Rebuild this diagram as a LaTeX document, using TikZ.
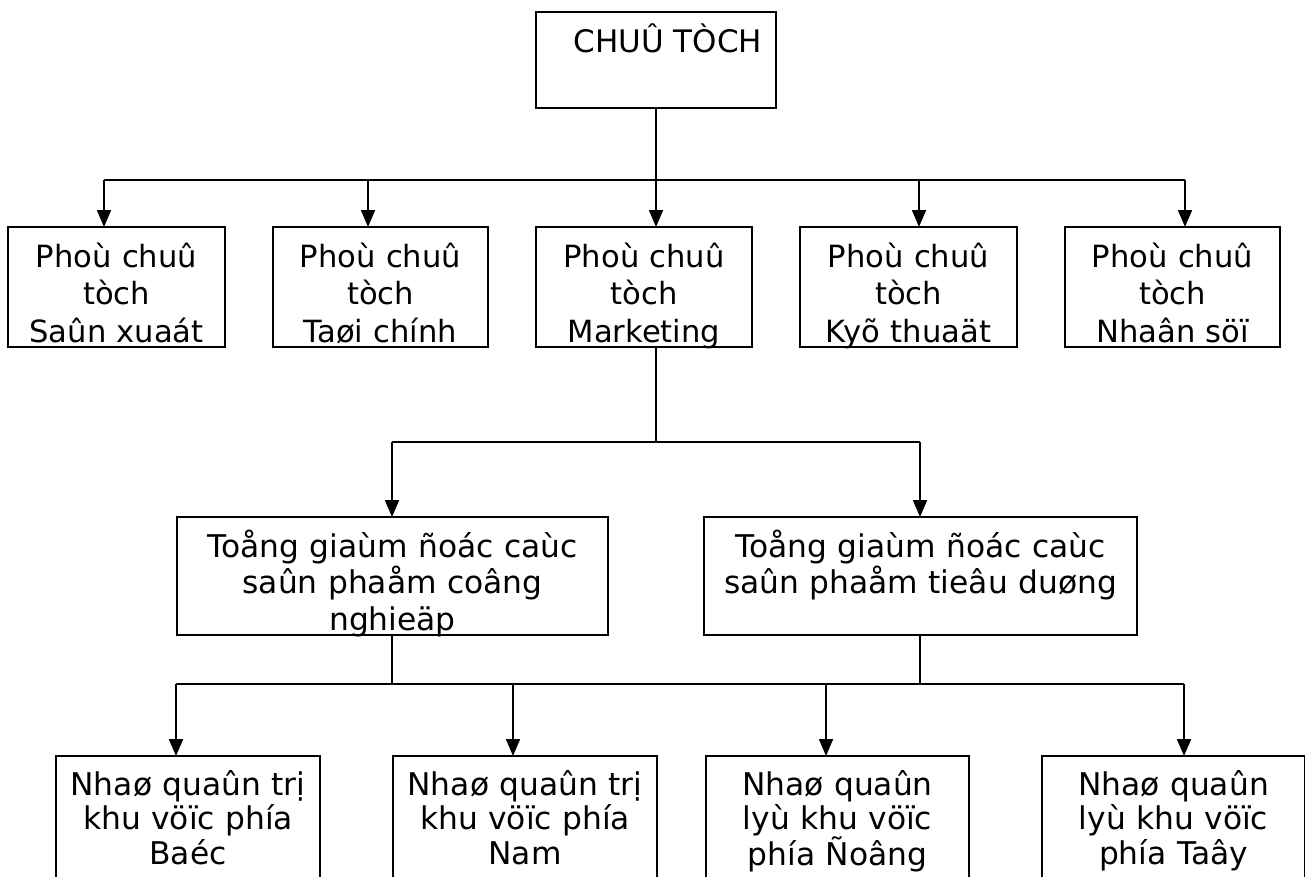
\documentclass[tikz,border=0pt]{standalone}
\usepackage{fontspec}
\setmainfont{DejaVu Sans}
\usetikzlibrary{arrows.meta}
\setlength{\lineskiplimit}{-50pt}
\begin{document}
\begin{tikzpicture}[x=1pt,y=-1pt,
  box/.style={draw, line width=2.1pt, inner sep=0pt, outer sep=0pt, anchor=north west},
  conn/.style={line width=1.8pt},
  arr/.style={line width=1.8pt, -{Triangle[length=17pt,width=14pt]}},
  lab/.style={anchor=base, inner sep=0pt, align=center},
  rowA/.style={lab, text width=212pt, font=\fontsize{30.6}{37.5}\selectfont},
  rowB/.style={lab, text width=425pt, font=\fontsize{31.3}{36.5}\selectfont},
  rowC/.style={lab, text width=258pt, font=\fontsize{31.3}{34.5}\selectfont}]
\useasboundingbox (0,0) rectangle (1305,876);
\clip (0,0) rectangle (1305,876);

% boxes
\node[box, minimum width=240pt, minimum height=96pt] (chair) at (536,12) {};
\node[box, minimum width=217pt, minimum height=120pt] (vp1) at (8,227) {};
\node[box, minimum width=215pt, minimum height=120pt] (vp2) at (273,227) {};
\node[box, minimum width=216pt, minimum height=120pt] (vp3) at (536,227) {};
\node[box, minimum width=217pt, minimum height=120pt] (vp4) at (800,227) {};
\node[box, minimum width=215pt, minimum height=120pt] (vp5) at (1065,227) {};
\node[box, minimum width=431pt, minimum height=118pt] (gmA) at (177,517) {};
\node[box, minimum width=433pt, minimum height=118pt] (gmB) at (704,517) {};
\node[box, minimum width=264pt, minimum height=160pt] (r1) at (56,756) {};
\node[box, minimum width=264pt, minimum height=160pt] (r2) at (393,756) {};
\node[box, minimum width=263pt, minimum height=160pt] (r3) at (706,756) {};
\node[box, minimum width=263pt, minimum height=160pt] (r4) at (1042,756) {};

% texts
\node[lab, font=\fontsize{31}{37}\selectfont] (chairt) at (668,52) {CHUÛ TÒCH};
\node[rowA] (vp1t) at (116.5,267) {Phoù chuû\\tòch\\Saûn xuaát};
\node[rowA] (vp2t) at (380.5,267) {Phoù chuû\\tòch\\Taøi chính};
\node[rowA] (vp3t) at (644,267) {Phoù chuû\\tòch\\Marketing};
\node[rowA] (vp4t) at (908.5,267) {Phoù chuû\\tòch\\Kyõ thuaät};
\node[rowA] (vp5t) at (1172.5,267) {Phoù chuû\\tòch\\Nhaân söï};
\node[rowB] (gmAt) at (392.5,557) {Toång giaùm ñoác caùc\\saûn phaåm coâng\\nghieäp};
\node[rowB] (gmBt) at (920.5,557) {Toång giaùm ñoác caùc\\saûn phaåm tieâu duøng};
\node[rowC] (r1t) at (188,795) {Nhaø quaûn trị\\khu vöïc phía\\Baéc};
\node[rowC] (r2t) at (525,795) {Nhaø quaûn trị\\khu vöïc phía\\Nam};
\node[rowC] (r3t) at (837.5,795) {Nhaø quaûn\\lyù khu vöïc\\phía Ñoâng};
\node[rowC] (r4t) at (1173.5,795) {Nhaø quaûn\\lyù khu vöïc\\phía Taây};

% bus coordinates
\coordinate (a0) at (656,180);
\coordinate (a1) at (104,180);
\coordinate (a2) at (368,180);
\coordinate (a4) at (919,180);
\coordinate (a5) at (1185,180);
\coordinate (b0) at (656,442);
\coordinate (b1) at (392,442);
\coordinate (b2) at (920,442);
\coordinate (c1) at (176,684);
\coordinate (c2) at (513,684);
\coordinate (c3) at (826,684);
\coordinate (c4) at (1184,684);

% level 1
\draw[conn] (a0 |- chair.south) -- (a0);
\draw[conn] (a1) -- (a5);
\draw[arr] (a1) -- (a1 |- vp1.north);
\draw[arr] (a2) -- (a2 |- vp2.north);
\draw[arr] (a0) -- (a0 |- vp3.north);
\draw[arr] (a4) -- (a4 |- vp4.north);
\draw[arr] (a5) -- (a5 |- vp5.north);

% level 2
\draw[conn] (b0 |- vp3.south) -- (b0);
\draw[conn] (b1) -- (b2);
\draw[arr] (b1) -- (b1 |- gmA.north);
\draw[arr] (b2) -- (b2 |- gmB.north);

% level 3
\draw[conn] (b1 |- gmA.south) -- (b1 |- c1);
\draw[conn] (b2 |- gmB.south) -- (b2 |- c1);
\draw[conn] (c1) -- (c4);
\draw[arr] (c1) -- (c1 |- r1.north);
\draw[arr] (c2) -- (c2 |- r2.north);
\draw[arr] (c3) -- (c3 |- r3.north);
\draw[arr] (c4) -- (c4 |- r4.north);
\end{tikzpicture}
\end{document}
